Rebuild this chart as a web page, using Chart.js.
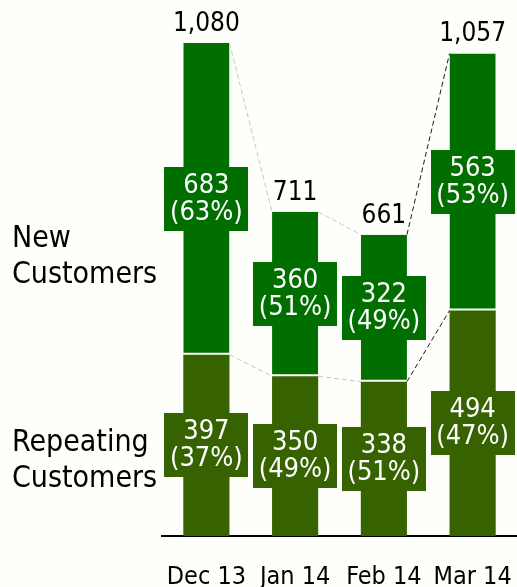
<!DOCTYPE html>
<html>
<head>
<meta charset="utf-8">
<title>Customers by month</title>
<script src="https://cdn.jsdelivr.net/npm/chart.js@4"></script>
<style>
  html, body { margin: 0; padding: 0; background: #fefefa; overflow: hidden; }
  canvas { display: block; }
</style>
</head>
<body>
<canvas id="chart" width="517" height="587"></canvas>
<script>
// Monthly customer counts, split into repeating and new
const months = ["Dec 13", "Jan 14", "Feb 14", "Mar 14"];
const repeating = [397, 350, 338, 494];
const newCustomers = [683, 360, 322, 563];
const totals = [1080, 711, 661, 1057];
const repeatingPct = [37, 49, 51, 47];
const newPct = [63, 51, 49, 53];

const FONT = "'DejaVu Sans Condensed', 'DejaVu Sans', sans-serif";
const BG = "#fefefa";
const GREEN_NEW = "#006f00";
const GREEN_REPEAT = "#366300";

const fmt = n => n.toLocaleString("en-US");

// Paint the page colour behind the chart
const background = {
  id: "background",
  beforeDraw(chart) {
    const ctx = chart.ctx;
    ctx.save();
    ctx.fillStyle = BG;
    ctx.fillRect(0, 0, chart.width, chart.height);
    ctx.restore();
  }
};

// Dashed connectors between neighbouring bars, darker when the value goes up
const connectors = {
  id: "connectors",
  afterDatasetsDraw(chart) {
    const ctx = chart.ctx;
    const levels = [
      { bars: chart.getDatasetMeta(0).data, vals: repeating },
      { bars: chart.getDatasetMeta(1).data, vals: totals }
    ];
    ctx.save();
    ctx.lineWidth = 1;
    ctx.setLineDash([5, 3]);
    levels.forEach(lv => {
      for (let i = 0; i < lv.bars.length - 1; i++) {
        const a = lv.bars[i], b = lv.bars[i + 1];
        ctx.strokeStyle = lv.vals[i + 1] > lv.vals[i] ? "#1a1a1a" : "#c8c8c8";
        ctx.beginPath();
        ctx.moveTo(a.x + a.width / 2, a.y);
        ctx.lineTo(b.x - b.width / 2, b.y);
        ctx.stroke();
      }
    });
    ctx.restore();
  }
};

// Value boxes, totals and the series names on the left
const labels = {
  id: "labels",
  afterDatasetsDraw(chart) {
    const ctx = chart.ctx;
    ctx.save();
    const series = [
      { meta: chart.getDatasetMeta(0), vals: repeating, pct: repeatingPct, color: GREEN_REPEAT },
      { meta: chart.getDatasetMeta(1), vals: newCustomers, pct: newPct, color: GREEN_NEW }
    ];
    ctx.textAlign = "center";
    ctx.textBaseline = "middle";
    series.forEach(s => {
      s.meta.data.forEach((bar, i) => {
        const cy = (bar.y + bar.base) / 2;
        const w = 84, h = 64;
        ctx.fillStyle = s.color;
        ctx.fillRect(Math.round(bar.x - w / 2), Math.round(cy - h / 2), w, h);
        ctx.fillStyle = "#ffffff";
        ctx.font = "27px " + FONT;
        ctx.fillText(fmt(s.vals[i]), bar.x, cy - 13);
        ctx.fillText("(" + s.pct[i] + "%)", bar.x, cy + 14);
      });
    });

    // totals above each stack
    ctx.fillStyle = "#000000";
    ctx.textBaseline = "alphabetic";
    ctx.font = "26px " + FONT;
    chart.getDatasetMeta(1).data.forEach((bar, i) => {
      ctx.fillText(fmt(totals[i]), bar.x, bar.y - 12);
    });

    // series names
    ctx.textAlign = "left";
    ctx.font = "30px " + FONT;
    ctx.fillText("New", 12, 247);
    ctx.fillText("Customers", 12, 283);
    ctx.fillText("Repeating", 12, 451);
    ctx.fillText("Customers", 12, 487);
    ctx.restore();
  }
};

new Chart(document.getElementById("chart"), {
  type: "bar",
  data: {
    labels: months,
    datasets: [
      {
        label: "Repeating Customers",
        data: repeating,
        backgroundColor: GREEN_REPEAT,
        borderWidth: 0
      },
      {
        label: "New Customers",
        data: newCustomers,
        backgroundColor: GREEN_NEW,
        borderColor: "#ffffff",
        borderWidth: { top: 0, left: 0, right: 0, bottom: 2 },
        borderSkipped: false
      }
    ]
  },
  options: {
    responsive: false,
    animation: false,
    layout: { autoPadding: false, padding: { left: 162, right: 0, top: 0, bottom: 0 } },
    datasets: { bar: { barPercentage: 0.52, categoryPercentage: 1 } },
    plugins: {
      legend: { display: false },
      tooltip: { enabled: false }
    },
    scales: {
      x: {
        stacked: true,
        grid: { display: false, drawTicks: false },
        border: { display: true, color: "#000000", width: 2 },
        ticks: { color: "#000000", font: { family: FONT, size: 25 }, padding: 26 },
        afterFit(scale) {
          scale.height = 51;
          scale.paddingLeft = 0;
          scale.paddingRight = 0;
        }
      },
      y: {
        stacked: true,
        display: false,
        min: 0,
        max: 1174
      }
    }
  },
  plugins: [background, connectors, labels]
});
</script>
</body>
</html>
